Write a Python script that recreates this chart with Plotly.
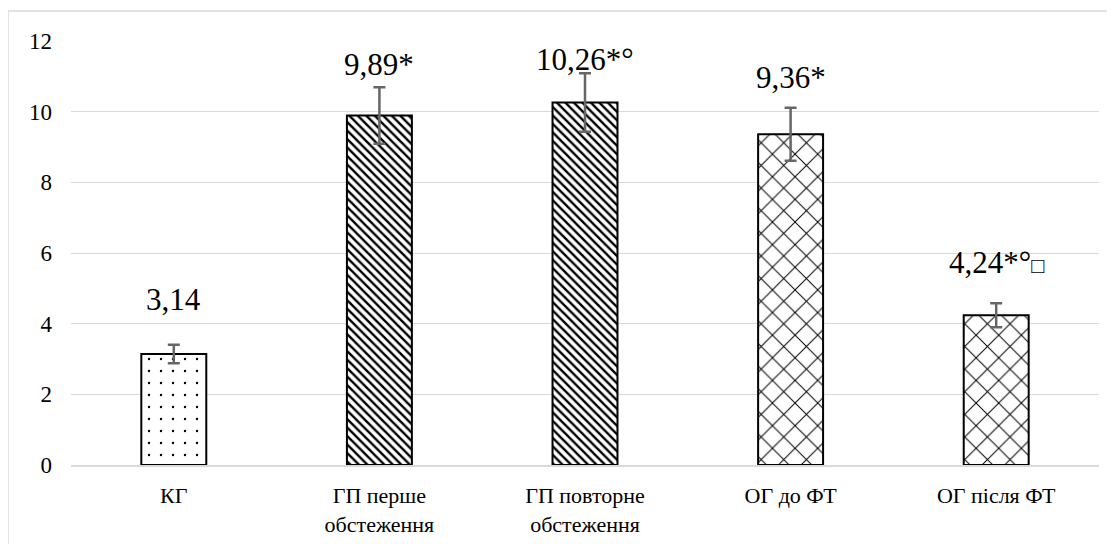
import plotly.graph_objects as go

categories = ["КГ", "ГП перше<br>обстеження", "ГП повторне<br>обстеження", "ОГ до ФТ", "ОГ після ФТ"]
values = [3.14, 9.89, 10.26, 9.36, 4.24]
errors = [0.26, 0.80, 0.83, 0.75, 0.34]
labels = ["3,14", "9,89*", "10,26*°", "9,36*", "4,24*°<span style='font-size:22px'>□</span>"]
label_y = [4.68, 11.33, 11.49, 10.97, 5.74]
y_ticks = [0, 2, 4, 6, 8, 10, 12]

shapes_pat = [".", "\\", "\\", "x", "x"]
sizes_pat = [12, 6, 6, 16, 16]
solid_pat = [0.03, 0.4, 0.4, 0.12, 0.12]

FONT = "Liberation Serif, DejaVu Serif, serif"

fig = go.Figure()
fig.add_trace(go.Bar(
    x=categories,
    y=values,
    width=0.316,
    marker=dict(
        color="white",
        line=dict(color="black", width=2),
        pattern=dict(shape=shapes_pat, size=sizes_pat, solidity=solid_pat,
                     fgcolor="black", bgcolor="white", fgopacity=1,
                     fillmode="overlay"),
    ),
    error_y=dict(type="data", array=errors, visible=True, color="#666666",
                 thickness=2.5, width=6),
    hoverinfo="skip",
))

for c, ly, t in zip(categories, label_y, labels):
    fig.add_annotation(x=c, y=ly, text=t, showarrow=False, yanchor="middle",
                       font=dict(family=FONT, size=31, color="black"))

fig.add_shape(type="rect", xref="paper", yref="paper",
              x0=-0.0613, x1=1.03, y0=-0.25, y1=1.0708,
              line=dict(color="#d9d9d9", width=1.5), fillcolor="rgba(0,0,0,0)",
              layer="below")

fig.update_layout(
    width=1107, height=536,
    margin=dict(l=63, r=16, t=33, b=79),
    paper_bgcolor="white", plot_bgcolor="white",
    showlegend=False,
    font=dict(family=FONT, color="black"),
    xaxis=dict(
        tickfont=dict(family=FONT, size=22, color="black"),
        showgrid=False, showline=True, linecolor="#d9d9d9", linewidth=1.5,
        ticks="", ticklabelstandoff=10, automargin=False,
    ),
    yaxis=dict(
        range=[0, 12], tickvals=y_ticks,
        tickfont=dict(family=FONT, size=23, color="black"),
        showgrid=True, gridcolor="#d9d9d9", gridwidth=1.3,
        zeroline=False, showline=False, ticks="", ticklabelstandoff=18,
        automargin=False,
    ),
)

fig.write_html("out.html")
